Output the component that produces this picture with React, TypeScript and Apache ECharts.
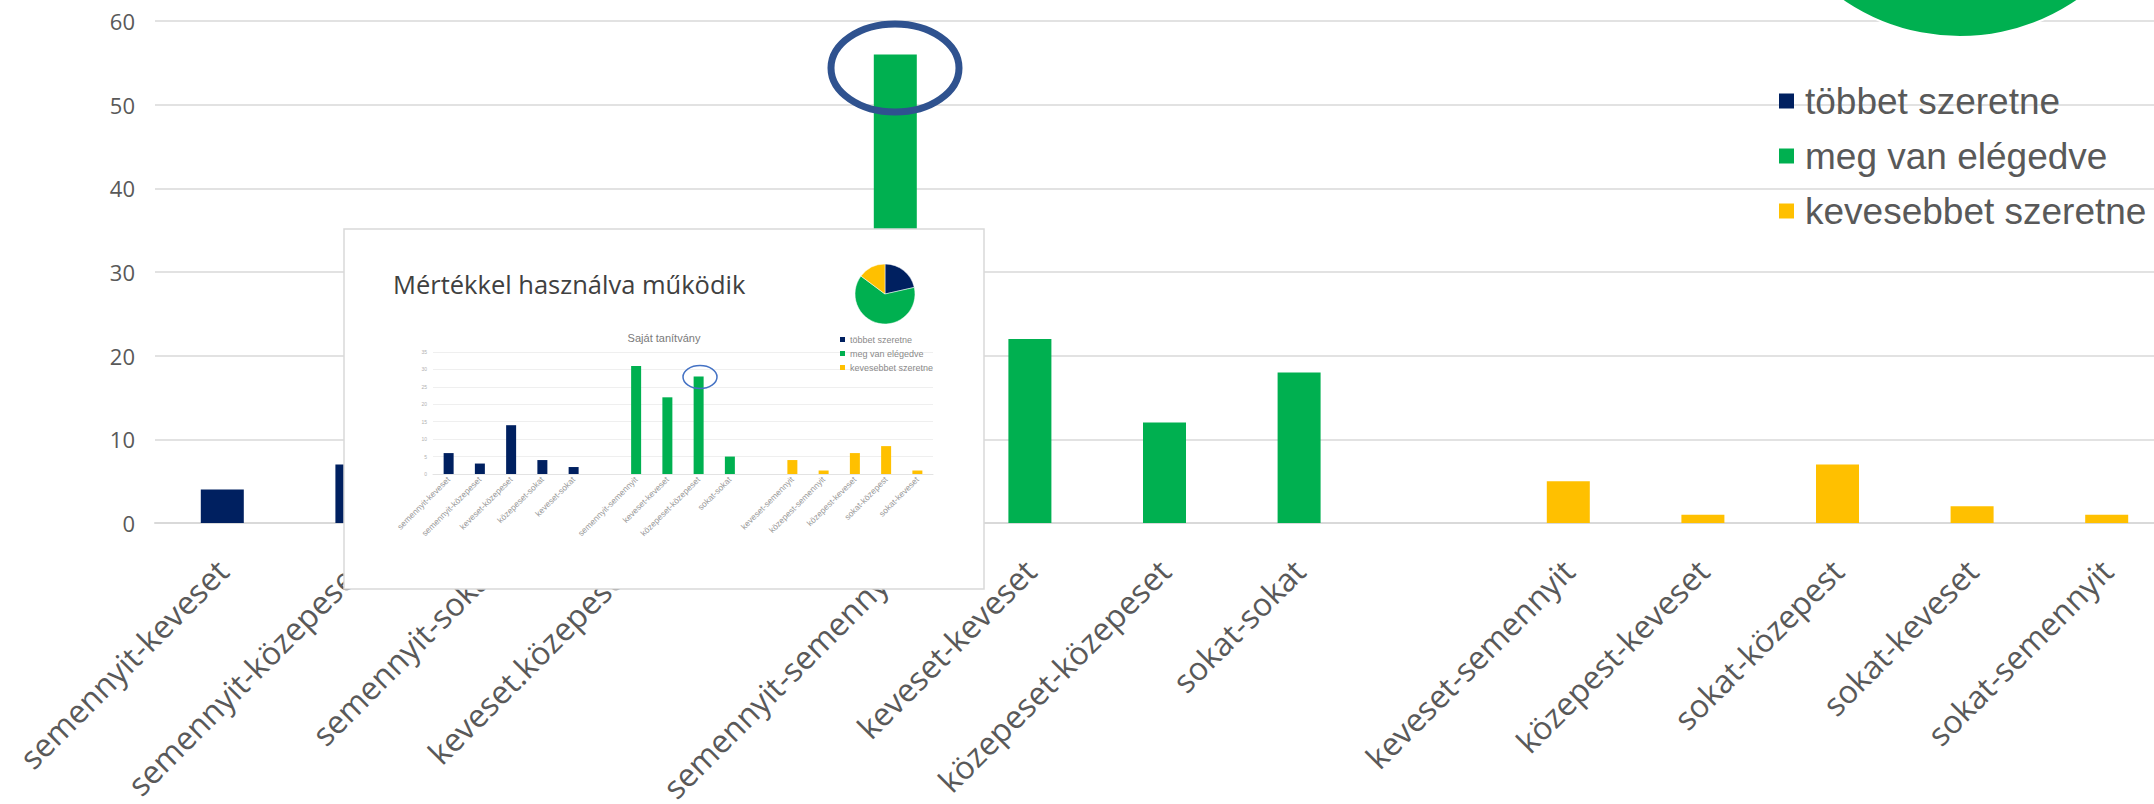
import React, { useEffect, useRef } from "react";
import * as echarts from "echarts";

// ---- main chart data ----
const categories = [
  "semennyit-keveset",
  "semennyit-közepeset",
  "semennyit-sokat",
  "keveset.közepeset",
  "",
  "semennyit-semennyit",
  "keveset-keveset",
  "közepeset-közepeset",
  "sokat-sokat",
  "",
  "keveset-semennyit",
  "közepest-keveset",
  "sokat-közepest",
  "sokat-keveset",
  "sokat-semennyit",
];
const seriesNames = ["többet szeretne", "meg van elégedve", "kevesebbet szeretne"];
const moreWanted = [4, 7, 11, 3, null, null, null, null, null, null, null, null, null, null, null];
const satisfied = [null, null, null, null, null, 56, 22, 12, 18, null, null, null, null, null, null];
const lessWanted = [null, null, null, null, null, null, null, null, null, null, 5, 1, 7, 2, 1];
const yTicks = { min: 0, max: 60, interval: 10 };

// ---- inset (picture of the slide) data ----
const insetTitle = "Mértékkel használva működik";
const insetChartTitle = "Saját tanítvány";
const insetCategories = [
  "semennyit-keveset",
  "semennyit-közepeset",
  "keveset-közepeset",
  "közepeset-sokat",
  "keveset-sokat",
  " ",
  "semennyit-semennyit",
  "keveset-keveset",
  "közepeset-közepeset",
  "sokat-sokat",
  "  ",
  "keveset-semennyit",
  "közepest-semennyit",
  "közepest-keveset",
  "sokat-közepest",
  "sokat-keveset",
];
const insetMore = [6, 3, 14, 4, 2, null, null, null, null, null, null, null, null, null, null, null];
const insetSatisfied = [null, null, null, null, null, null, 31, 22, 28, 5, null, null, null, null, null, null];
const insetLess = [null, null, null, null, null, null, null, null, null, null, null, 4, 1, 6, 8, 1];
const insetTicks = { min: 0, max: 35, interval: 5 };

const colors = ["#002060", "#00B050", "#FFC000"];

const sum = (a: (number | null)[]) => a.reduce((s: number, v) => s + (v ?? 0), 0);

export default function App() {
  const ref = useRef<HTMLDivElement>(null);
  useEffect(() => {
    if (!ref.current) return;
    const chart = echarts.init(ref.current, null, { renderer: "svg" });
    const mainData = [moreWanted, satisfied, lessWanted];
    const insetData = [insetMore, insetSatisfied, insetLess];
    const INSET_Z = 60;

    chart.setOption({
      animation: false,
      backgroundColor: "#ffffff",
      color: colors,
      grid: [
        { left: 155, top: 21, width: 2019, height: 502, outerBoundsMode: "none", containLabel: false },
        { left: 433, top: 352, width: 500, height: 122, z: INSET_Z, outerBoundsMode: "none", containLabel: false },
      ],
      legend: [
        {
          data: seriesNames,
          orient: "vertical",
          left: 1779,
          top: 79,
          padding: 0,
          icon: "rect",
          itemWidth: 15,
          itemHeight: 15,
          itemGap: 11,
          selectedMode: false,
          textStyle: {
            fontSize: 37,
            color: "#595959",
            fontFamily: "Liberation Sans",
            lineHeight: 44,
            padding: [0, 0, 0, 6],
          },
        },
        {
          data: seriesNames,
          orient: "vertical",
          left: 840,
          top: 334,
          padding: 0,
          icon: "rect",
          itemWidth: 5,
          itemHeight: 5,
          itemGap: 3,
          z: INSET_Z,
          selectedMode: false,
          textStyle: { fontSize: 9, color: "#8a8a8a", fontFamily: "Liberation Sans", lineHeight: 11 },
        },
      ],
      xAxis: [
        {
          type: "category",
          gridIndex: 0,
          data: categories,
          axisTick: { show: false },
          axisLine: { lineStyle: { color: "#D9D9D9", width: 2 } },
          axisLabel: {
            interval: 0,
            rotate: 45,
            margin: 42,
            fontSize: 32,
            color: "#595959",
            fontFamily: "Open Sans",
          },
        },
        {
          type: "category",
          gridIndex: 1,
          data: insetCategories,
          z: INSET_Z,
          axisTick: { show: false },
          axisLine: { lineStyle: { color: "#E3E3E3", width: 1 } },
          axisLabel: {
            interval: 0,
            rotate: 45,
            margin: 4,
            fontSize: 8.5,
            color: "#9a9a9a",
            fontFamily: "Liberation Sans",
          },
        },
      ],
      yAxis: [
        {
          type: "value",
          gridIndex: 0,
          ...yTicks,
          axisLine: { show: false },
          axisTick: { show: false },
          axisLabel: { fontSize: 22, color: "#595959", margin: 20, fontFamily: "Open Sans" },
          splitLine: { lineStyle: { color: "#D9D9D9", width: 1.5 } },
        },
        {
          type: "value",
          gridIndex: 1,
          ...insetTicks,
          z: INSET_Z,
          axisLine: { show: false },
          axisTick: { show: false },
          axisLabel: { fontSize: 5, color: "#b0b0b0", margin: 6, fontFamily: "Liberation Sans" },
          splitLine: { lineStyle: { color: "#EFEFEF", width: 1 } },
        },
      ],
      series: [
        ...seriesNames.map((name, i) => ({
          type: "bar",
          name,
          stack: "main",
          xAxisIndex: 0,
          yAxisIndex: 0,
          barWidth: 43,
          data: mainData[i],
          itemStyle: { color: colors[i] },
        })),
        {
          type: "pie",
          name: "main pie",
          center: [1960, -170],
          radius: 207,
          startAngle: 90,
          silent: true,
          z: 3,
          label: { show: false },
          labelLine: { show: false },
          itemStyle: { borderColor: "#ffffff", borderWidth: 2 },
          data: seriesNames.map((name, i) => ({ name, value: sum(mainData[i]), itemStyle: { color: colors[i] } })),
        },
        ...seriesNames.map((name, i) => ({
          type: "bar",
          name,
          stack: "inset",
          xAxisIndex: 1,
          yAxisIndex: 1,
          barWidth: 10,
          z: INSET_Z,
          data: insetData[i],
          itemStyle: { color: colors[i] },
        })),
        {
          type: "pie",
          name: "inset pie",
          center: [885, 294],
          radius: 30,
          startAngle: 90,
          silent: true,
          z: INSET_Z,
          label: { show: false },
          labelLine: { show: false },
          itemStyle: { borderColor: "#ffffff", borderWidth: 0.5 },
          data: seriesNames.map((name, i) => ({ name, value: sum(insetData[i]), itemStyle: { color: colors[i] } })),
        },
      ],
      graphic: {
        elements: [
          {
            type: "ellipse",
            z: 10,
            shape: { cx: 895, cy: 68, rx: 64, ry: 44 },
            style: { fill: "none", stroke: "#2F528F", lineWidth: 7 },
          },
          {
            type: "rect",
            z: 50,
            shape: { x: 344, y: 229, width: 640, height: 360 },
            style: { fill: "#ffffff", stroke: "#D9D9D9", lineWidth: 1.5 },
          },
          {
            type: "text",
            z: INSET_Z,
            x: 393,
            y: 284,
            style: {
              text: insetTitle,
              fontSize: 25.5,
              fontFamily: "Open Sans",
              fill: "#404040",
              textVerticalAlign: "middle",
            },
          },
          {
            type: "text",
            z: INSET_Z,
            x: 664,
            y: 338,
            style: {
              text: insetChartTitle,
              fontSize: 11,
              fontFamily: "Liberation Sans",
              fill: "#7a7a7a",
              textAlign: "center",
              textVerticalAlign: "middle",
            },
          },
          {
            type: "ellipse",
            z: INSET_Z + 1,
            shape: { cx: 700, cy: 377, rx: 17, ry: 11.5 },
            style: { fill: "none", stroke: "#4472C4", lineWidth: 1.5 },
          },
        ],
      },
    });
    return () => chart.dispose();
  }, []);
  return (
    <div
      ref={ref}
      style={{ position: "fixed", left: 0, top: 0, width: 2154, height: 804, background: "#fff", overflow: "hidden" }}
    />
  );
}
